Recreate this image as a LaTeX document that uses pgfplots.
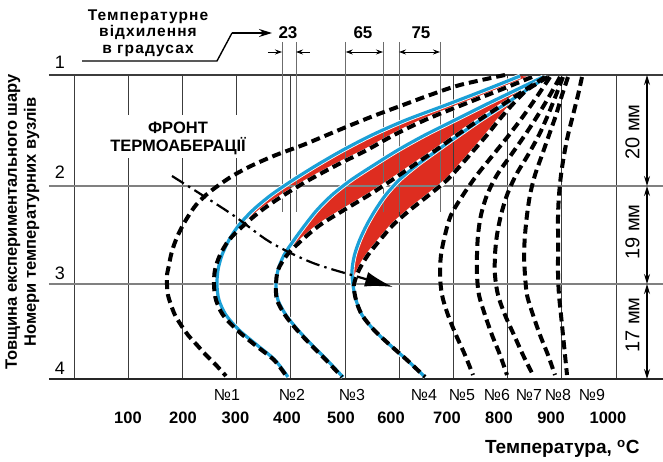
\documentclass[border=0pt]{standalone}
\usepackage{fontspec}
\setmainfont{Liberation Sans}
\usepackage{pgfplots}
\pgfplotsset{compat=1.18}
\usepackage{pgfplotstable}
\usepgfplotslibrary{fillbetween}
\usetikzlibrary{arrows.meta}
\definecolor{cblue}{RGB}{27,160,215}
\definecolor{cred}{RGB}{222,45,32}
\definecolor{gridc}{RGB}{60,60,60}
\newcommand{\fs}[1]{\fontsize{#1}{#1}\selectfont}

% x: temperature (deg C), y: depth below node 1 (node 1 = 0, node 2 = 111, node 3 = 209, node 4 = 304)
\pgfplotstableread{
x y
795.2 0
712.2 10
656.8 20
607.0 30
557.2 40
511.1 50
466.8 60
422.5 70
372.7 80
330.3 90
295.2 100
267.5 110
243.5 120
225.1 130
212.2 140
201.1 150
191.9 160
184.5 170
179.0 180
175.3 190
171.6 200
171.6 210
173.4 220
179.0 230
186.3 240
197.4 250
210.3 260
226.9 270
243.5 280
262.0 290
280.4 301
}\cone
\pgfplotstableread{
x y
822.9 1
758.3 15
686.3 30
612.5 45
549.8 60
496.3 75
448.3 90
404.1 105
363.5 120
330.3 135
304.4 150
286.0 165
273.1 180
265.7 195
263.8 210
267.5 225
280.4 240
304.4 255
337.6 270
370.8 285
394.8 302
}\btwo
\pgfplotstableread{
x y
845.0 2
786.0 15
715.9 30
647.6 45
590.4 60
540.6 75
485.2 90
433.6 105
387.5 120
346.9 135
313.7 150
286.0 165
269.4 180
260.1 195
258.3 210
262.0 225
274.9 240
300.7 255
333.9 270
369.0 285
393.0 302
}\dtwo
\pgfplotstableread{
x y
865.3 2
815.5 15
758.3 30
703.0 45
647.6 60
597.8 75
553.5 90
511.1 105
476.0 120
448.3 135
426.2 150
405.9 165
387.5 180
376.4 195
372.7 210
376.4 225
391.1 240
413.3 255
439.1 270
466.8 285
496.3 302
}\bthree
\pgfplotstableread{
x y
869.0 2
832.1 15
789.7 30
747.2 45
706.6 60
667.9 75
627.3 90
586.7 105
544.3 120
498.2 135
453.9 150
420.7 165
393.0 180
376.4 195
372.7 210
374.5 225
389.3 240
411.4 255
437.3 270
464.9 285
494.5 302
}\dthree
\pgfplotstableread{
x y
872.0 2
835.0 15
793.0 30
750.0 45
710.0 60
671.0 75
633.0 90
600.0 105
575.0 120
556.0 135
540.0 150
527.0 165
517.5 180
513.0 195
514.8 210
520.3 225
531.4 240
553.5 255
583.0 270
614.4 285
647.6 302
}\bfour
\pgfplotstableread{
x y
874.5 2
835.8 15
808.1 30
784.1 45
762.0 60
738.0 75
714.0 90
688.2 105
655.0 120
619.9 135
588.6 150
564.6 165
542.4 180
525.8 195
516.6 210
520.3 225
531.4 240
553.5 255
583.0 270
614.4 285
647.6 302
}\dfour
\pgfplotstableread{
x y
878.2 2
856.1 20
830.3 40
802.6 60
773.1 80
743.5 100
717.7 120
695.6 140
684.5 160
677.1 180
675.3 200
679.0 220
690.0 240
704.8 260
721.4 280
736.2 300
}\cfive
\pgfplotstableread{
x y
896.7 2
878.2 20
856.1 40
832.1 60
806.3 80
780.4 100
762.0 120
750.9 140
745.4 160
743.5 180
743.5 200
747.2 220
758.3 240
771.2 260
786.0 280
798.9 300
}\csix
\pgfplotstableread{
x y
902.2 2
889.3 20
874.5 40
857.9 60
837.6 80
815.5 100
798.9 120
787.8 140
780.4 160
776.7 180
776.7 200
782.3 220
795.2 240
811.8 260
828.4 280
846.9 300
}\cseven
\pgfplotstableread{
x y
911.4 2
900.4 20
889.3 40
876.4 60
863.5 80
850.5 100
841.3 120
835.8 140
832.1 160
830.3 180
832.1 200
835.8 220
846.9 240
859.8 260
874.5 280
887.4 300
}\ceight
\pgfplotstableread{
x y
937.2 2
929.9 20
920.7 40
911.4 60
904.1 80
898.5 100
894.8 120
893.0 140
893.0 160
893.0 180
893.0 200
894.8 220
898.5 240
902.2 260
905.9 280
909.6 300
}\cnine

\tikzset{
  dashc/.style={black, line width=4pt, dash pattern=on 9pt off 5pt, smooth},
  bluec/.style={cblue, line width=3.2pt, smooth, preaction={draw=white, line width=4.8pt}},
  under/.style={white, line width=4.2pt, smooth},
  dimarr/.style={line width=0.8pt, {Stealth[length=7pt,width=5pt]}-{Stealth[length=7pt,width=5pt]}},
}

\begin{document}
\begin{tikzpicture}
\begin{axis}[
  scale only axis, width=663pt, height=461pt,
  xmin=-136.5, xmax=1086.7, ymin=-75, ymax=386, y dir=reverse,
  hide axis, clip=false]

% named paths for the red areas
\addplot[draw=none, smooth, name path=b2, forget plot] table {\btwo};
\addplot[draw=none, smooth, name path=d2, forget plot] table {\dtwo};
\addplot[draw=none, smooth, name path=b3, forget plot] table {\bthree};
\addplot[draw=none, smooth, name path=d3, forget plot] table {\dthree};
\addplot[draw=none, smooth, name path=b4, forget plot] table {\bfour};
\addplot[draw=none, smooth, name path=d4, forget plot] table {\dfour};

\addplot[cred, draw=none] fill between[of=b2 and d2, soft clip={(axis cs:-200,0) rectangle (axis cs:1100,163)}];
\addplot[cred, draw=none] fill between[of=b3 and d3, soft clip={(axis cs:-200,0) rectangle (axis cs:1100,195)}];
\addplot[cred, draw=none] fill between[of=b4 and d4, soft clip={(axis cs:-200,14) rectangle (axis cs:1100,212)}];

% grid
\pgfplotsinvokeforeach{0,100,200,300,400,500,600,700,800,900,1000}{
  \draw[gridc, line width=0.9pt] (axis cs:#1,0) -- (axis cs:#1,304);
}
\draw[gridc, line width=1.2pt] (axis cs:-46.1,0) -- (axis cs:1086.7,0);
\draw[gray, line width=1.5pt] (axis cs:-46.1,111) -- (axis cs:1086.7,111);
\draw[gray, line width=1.5pt] (axis cs:-46.1,209) -- (axis cs:1086.7,209);
\draw[black!85, line width=2pt] (axis cs:-46.1,304) -- (axis cs:1086.7,304);

% deviation markers
\pgfplotsinvokeforeach{383.8,409.6,501.3,570.1,599.6,675.3}{
  \draw[gray!85!black, line width=0.8pt] (axis cs:#1,-33) -- (axis cs:#1,137);
}
\draw[line width=0.8pt, -{Stealth[length=7pt,width=5pt]}] (axis cs:357.9,-23) -- (axis cs:383.8,-23);
\draw[line width=0.8pt, -{Stealth[length=7pt,width=5pt]}] (axis cs:435.4,-23) -- (axis cs:409.6,-23);
\draw[dimarr] (axis cs:501.3,-23) -- (axis cs:570.1,-23);
\draw[dimarr] (axis cs:599.6,-23) -- (axis cs:675.3,-23);
\node[font=\bfseries\fs{17}] at (axis cs:394.8,-42) {23};
\node[font=\bfseries\fs{17}] at (axis cs:533.2,-42) {65};
\node[font=\bfseries\fs{17}] at (axis cs:640.2,-42) {75};

% title with leader
\node[align=center, font=\bfseries\fontsize{15.5}{16.5}\selectfont\addfontfeatures{LetterSpace=7}] at (axis cs:136.5,-42) {Температурне\\відхилення\\в градусах};
\draw[line width=1.4pt] (axis cs:14.8,-14) -- (axis cs:263.8,-14) -- (axis cs:291.5,-42);
\draw[line width=1.4pt, -{Stealth[length=13pt,width=8pt]}] (axis cs:291.5,-42) -- (axis cs:365.3,-42);

% front label box
\fill[white] (axis cs:11.1,40) rectangle (axis cs:348.7,83);
\node[align=center, font=\bfseries\fontsize{16.5}{18}\selectfont] at (axis cs:191.9,63) {ФРОНТ\\ТЕРМОАБЕРАЦІЇ};

% white underlays of dashed curves within red areas
\addplot[under] table {\dtwo};
\addplot[under] table {\dthree};
\addplot[under] table {\dfour};

% blue curves
\addplot[bluec] table {\btwo};
\addplot[bluec] table {\bthree};
\addplot[bluec] table {\bfour};

% dashed curves
\addplot[dashc] table {\cone};
\addplot[dashc] table {\dtwo};
\addplot[dashc] table {\dthree};
\addplot[dashc] table {\dfour};
\addplot[dashc] table {\cfive};
\addplot[dashc] table {\csix};
\addplot[dashc] table {\cseven};
\addplot[dashc] table {\ceight};
\addplot[dashc] table {\cnine};

% front of thermo-aberration
\addplot[smooth, black, line width=2.2pt, dash pattern=on 14pt off 5pt on 2.5pt off 5pt,
  -{Latex[length=28pt,width=15pt]}] coordinates {
  (180.8,101) (287.8,138) (361.6,167) (441,188) (531.4,203) (588.6,212)};

% node numbers
\node[font=\fs{18}] at (axis cs:-25.8,-13) {1};
\node[font=\fs{18}] at (axis cs:-25.8,97) {2};
\node[font=\fs{18}] at (axis cs:-25.8,198) {3};
\node[font=\fs{18}] at (axis cs:-25.8,293) {4};

% curve numbers
\node[font=\fs{16}] at (axis cs:282.3,320) {№1};
\node[font=\fs{16}] at (axis cs:402.2,320) {№2};
\node[font=\fs{16}] at (axis cs:512.9,320) {№3};
\node[font=\fs{16}] at (axis cs:645.8,320) {№4};
\node[font=\fs{16}] at (axis cs:715.9,320) {№5};
\node[font=\fs{16}] at (axis cs:780.4,320) {№6};
\node[font=\fs{16}] at (axis cs:839.5,320) {№7};
\node[font=\fs{16}] at (axis cs:893,320) {№8};
\node[font=\fs{16}] at (axis cs:955.7,320) {№9};

% temperature tick labels
\node[font=\bfseries\fs{16.5}] at (axis cs:99.6,343) {100};
\node[font=\bfseries\fs{16.5}] at (axis cs:201.1,343) {200};
\node[font=\bfseries\fs{16.5}] at (axis cs:298,343) {300};
\node[font=\bfseries\fs{16.5}] at (axis cs:393,343) {400};
\node[font=\bfseries\fs{16.5}] at (axis cs:492.6,343) {500};
\node[font=\bfseries\fs{16.5}] at (axis cs:584.9,343) {600};
\node[font=\bfseries\fs{16.5}] at (axis cs:688.2,343) {700};
\node[font=\bfseries\fs{16.5}] at (axis cs:784.1,343) {800};
\node[font=\bfseries\fs{16.5}] at (axis cs:880.1,343) {900};
\node[font=\bfseries\fs{16.5}] at (axis cs:985.2,343) {1000};
\node[anchor=east, font=\bfseries\fs{19}] at (axis cs:1049.8,374) {Температура, \textsuperscript{o}C};

% y label
\node[rotate=90, align=center, font=\bfseries\fontsize{16.5}{19}\selectfont] at (axis cs:-95,147) {Товщина експериментального шару\\Номери температурних вузлів};

% thickness dimensions
\draw[line width=1.2pt, {Stealth[length=10pt,width=6pt]}-{Stealth[length=10pt,width=6pt]}] (axis cs:1057.2,0) -- (axis cs:1057.2,111);
\draw[line width=1.2pt, {Stealth[length=10pt,width=6pt]}-{Stealth[length=10pt,width=6pt]}] (axis cs:1057.2,111) -- (axis cs:1057.2,209);
\draw[line width=1.2pt, {Stealth[length=10pt,width=6pt]}-{Stealth[length=10pt,width=6pt]}] (axis cs:1057.2,209) -- (axis cs:1057.2,304);
\node[rotate=90, font=\fs{20}] at (axis cs:1030.4,57) {20 мм};
\node[rotate=90, font=\fs{20}] at (axis cs:1030.4,157) {19 мм};
\node[rotate=90, font=\fs{20}] at (axis cs:1030.4,250) {17 мм};
\end{axis}
\pgfresetboundingbox
\path (current axis.south west) rectangle (current axis.north east);
\end{tikzpicture}
\end{document}
